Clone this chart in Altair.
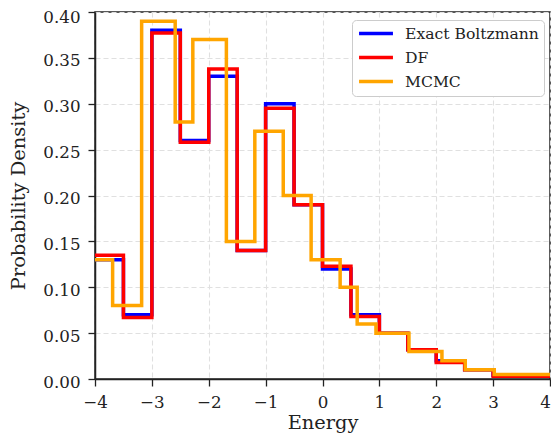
import altair as alt
import pandas as pd

series_names = ["Exact Boltzmann", "DF", "MCMC"]
series_colors = ["#0000ff", "#ff0000", "#ffa500"]

grid_edges = [-4.0, -3.5, -3.0, -2.5, -2.0, -1.5, -1.0, -0.5, 0.0,
              0.5, 1.0, 1.5, 2.0, 2.5, 3.0, 3.5, 4.0]
exact_values = [0.13, 0.07, 0.38, 0.26, 0.33, 0.14, 0.30, 0.19, 0.12,
                0.07, 0.05, 0.032, 0.02, 0.01, 0.004, 0.004]
df_values = [0.135, 0.067, 0.377, 0.258, 0.338, 0.14, 0.295, 0.19, 0.123,
             0.068, 0.05, 0.032, 0.018, 0.01, 0.003, 0.003]
mcmc_edges = [-4.0, -3.69, -3.18, -2.59, -2.28, -1.69, -1.19, -0.69, -0.20,
              0.31, 0.61, 0.94, 1.52, 2.10, 2.51, 3.02, 4.0]
mcmc_values = [0.13, 0.08, 0.39, 0.28, 0.37, 0.15, 0.27, 0.20, 0.13,
               0.10, 0.06, 0.05, 0.03, 0.02, 0.01, 0.005]

x_ticks = [-4, -3, -2, -1, 0, 1, 2, 3, 4]
y_ticks = [0.0, 0.05, 0.10, 0.15, 0.20, 0.25, 0.30, 0.35, 0.40]

FONT = "DejaVu Serif"


def step_frame(name, edges, values):
    vals = list(values) + [values[-1]]
    return pd.DataFrame({"energy": edges, "density": vals, "series": name})


frames = [
    step_frame(series_names[0], grid_edges, exact_values),
    step_frame(series_names[1], grid_edges, df_values),
    step_frame(series_names[2], mcmc_edges, mcmc_values),
]

color_scale = alt.Scale(domain=series_names, range=series_colors)

x_enc = alt.X(
    "energy:Q",
    scale=alt.Scale(domain=[-4, 4], nice=False),
    axis=alt.Axis(
        values=x_ticks, format="d", title="Energy",
        labelPadding=8, titlePadding=3,
        labelOffset={"condition": {"test": "datum.value >= 4", "value": -5}, "value": 0},
    ),
)
y_enc = alt.Y(
    "density:Q",
    scale=alt.Scale(domain=[0, 0.4], nice=False),
    axis=alt.Axis(
        values=y_ticks, format=".2f", title="Probability Density",
        labelPadding=8, titlePadding=14,
        labelOffset={"condition": {"test": "datum.value >= 0.4", "value": 5}, "value": 3},
    ),
)

layers = []
for f in frames:
    layers.append(
        alt.Chart(f)
        .mark_line(interpolate="step-after", strokeWidth=3.5, strokeJoin="miter", clip=True)
        .encode(
            x=x_enc,
            y=y_enc,
            color=alt.Color(
                "series:N",
                scale=color_scale,
                sort=series_names,
                legend=alt.Legend(
                    title=None,
                    orient="none",
                    legendX=257,
                    legendY=8,
                    symbolType="stroke",
                    symbolSize=1150,
                    symbolStrokeWidth=3.5,
                    clipHeight=17,
                    labelFont=FONT,
                    labelFontSize=15.6,
                    labelColor="#222222",
                    strokeColor="#cccccc",
                    fillColor="white",
                    cornerRadius=4,
                    padding=5,
                    rowPadding=6,
                    labelOffset=10,
                ),
            ),
        )
    )

chart = (
    alt.layer(*layers)
    .properties(
        width=455,
        height=367,
        autosize=alt.AutoSizeParams(type="none"),
        padding={"left": 87, "top": 4, "right": 1, "bottom": 55},
    )
    .configure_view(stroke="#222222", strokeWidth=1.5)
    .configure_axis(
        labelFont=FONT,
        titleFont=FONT,
        labelFontSize=16.7,
        titleFontSize=19.4,
        titleFontWeight="normal",
        labelColor="#222222",
        titleColor="#222222",
        labelFlush=False,
        labelOverlap=False,
        domainColor="#222222",
        domainWidth=1.5,
        tickColor="#222222",
        tickWidth=1.3,
        tickSize=7,
        grid=True,
        gridColor="#e0e0e0",
        gridDash=[5, 3],
        gridWidth=1.1,
    )
)

chart.save("out.html", embed_options={"renderer": "svg", "actions": False})
